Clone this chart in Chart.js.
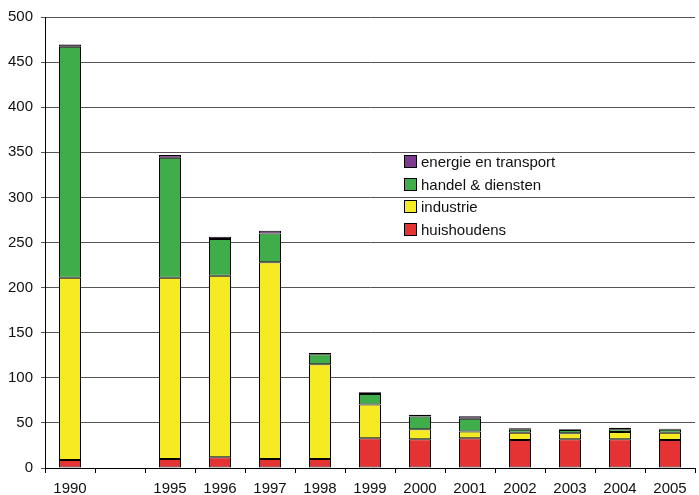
<!DOCTYPE html>
<html>
<head>
<meta charset="utf-8">
<script src="https://cdn.jsdelivr.net/npm/chart.js@4/dist/chart.umd.min.js"></script>
<style>
  html, body { margin: 0; padding: 0; background: #fff; }
  #wrap { position: relative; width: 699px; height: 495px; }
  #legend { position: absolute; left: 404px; top: 151px; font: 15px "Liberation Sans", Arial, sans-serif; color: #111; }
  #legend div { height: 22.7px; line-height: 22.7px; white-space: nowrap; }
  #legend span { display: inline-block; width: 11px; height: 11px; border: 1px solid #000; margin-right: 4px; vertical-align: -1px; }
</style>
</head>
<body>
<div id="wrap">
  <canvas id="grafiek"></canvas>
  <div id="legend"></div>
</div>
<script>
const jaren = ['1990', '', '1995', '1996', '1997', '1998', '1999', '2000', '2001', '2002', '2003', '2004', '2005'];
const huishoudens = [9, null, 10, 12, 10, 10, 33, 32, 33, 31, 32, 32, 31];
const industrie = [202, null, 201, 201, 218, 105, 37.5, 11, 7.5, 8, 6.5, 8, 8];
const handelDiensten = [256, null, 133, 41, 32, 11, 11.5, 14, 14, 3.5, 3.5, 3, 3.5];
const energieTransport = [2.5, null, 3, 2.5, 3, 1.5, 2, 2, 3, 1.5, 1, 1.5, 1];

const kleuren = ['#e53333', '#f6ea22', '#3fae4a', '#7d3a8e'];
const namen = ['huishoudens', 'industrie', 'handel & diensten', 'energie en transport'];
const reeksen = [huishoudens, industrie, handelDiensten, energieTransport];

const datasets = reeksen.map((r, i) => ({
  label: namen[i],
  data: r,
  backgroundColor: kleuren[i],
  borderColor: '#000',
  borderWidth: 1,
  borderSkipped: false,
  barPercentage: 0.88,
  categoryPercentage: 0.5
}));

Chart.defaults.font.family = '"Liberation Sans", Arial, sans-serif';
Chart.defaults.font.size = 15;
Chart.defaults.color = '#111';

new Chart(document.getElementById('grafiek'), {
  type: 'bar',
  data: { labels: jaren, datasets: datasets },
  options: {
    responsive: true,
    maintainAspectRatio: false,
    animation: false,
    layout: { padding: { top: 16, right: 4, left: 0, bottom: 0 } },
    plugins: { legend: { display: false }, tooltip: { enabled: false } },
    scales: {
      x: {
        stacked: true,
        afterFit: s => { s.height = 27; },
        border: { color: '#000', width: 1 },
        grid: { offset: true, drawOnChartArea: false, tickLength: 5, color: '#000' },
        ticks: { padding: 7, maxRotation: 0, autoSkip: false }
      },
      y: {
        stacked: true,
        min: 0,
        max: 500,
        afterFit: s => { s.width = 45; },
        border: { color: '#000', width: 1 },
        grid: { color: '#555', tickLength: 4 },
        ticks: { stepSize: 50, padding: 8 }
      }
    }
  }
});

// legenda in html, bovenste reeks eerst
const leg = document.getElementById('legend');
for (let i = namen.length - 1; i >= 0; i--) {
  const d = document.createElement('div');
  d.innerHTML = `<span style="background:${kleuren[i]}"></span>${namen[i]}`;
  leg.appendChild(d);
}
</script>
</body>
</html>
